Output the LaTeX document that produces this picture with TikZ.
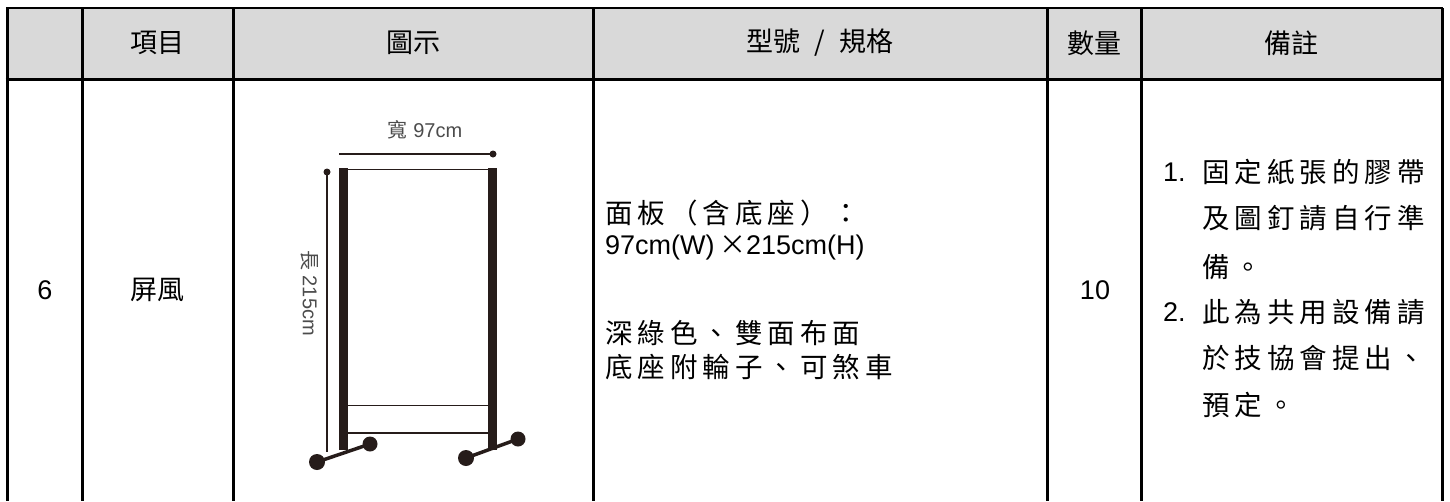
\documentclass[tikz,border=0pt]{standalone}
\usepackage{fontspec}
\setmainfont{Liberation Sans}
\newfontfamily\cjk{Noto Sans CJK TC}
\definecolor{frame}{RGB}{38,28,26}
\makeatletter
\newcommand\spreadcjk[1]{\@tfor\sc@c:=#1\do{\makebox[32.5pt][l]{\sc@c}}}
\makeatother
\newcommand\spreadline[1]{\expandafter\spreadcjk\expandafter{#1}}

\begin{document}
\begin{tikzpicture}[x=1pt,y=-1pt,
   grid/.style={line width=3pt},
   head/.style={font=\cjk\fontsize{27}{30}\selectfont,inner sep=0pt},
   body/.style={font=\cjk\fontsize{27.5}{30}\selectfont,anchor=west,inner sep=0pt},
   latin/.style={font=\fontsize{27}{32}\selectfont,inner sep=0pt},
   dim/.style={font=\fontsize{20}{22}\selectfont,text=black!70,inner sep=0pt},
   foot/.style={frame,line width=3.5pt}]
   \useasboundingbox (0,0) rectangle (1450,501);
   \fill[gray!30] (7,8) rectangle (1442,79);
   \draw[line width=2pt] (6,8) -- (1443,8);
   \draw[grid] (5.5,79) -- (1443.5,79);
   \foreach \x in {7,82,233,593,1047,1141,1442}
    \draw[grid] (\x,8) -- (\x,501);
   \node[head] (hitem) at (157,43) {項目};
   \node[head] (hpic) at (413,43) {圖示};
   \node[head] (hspec) at (820,43) {型號\hspace{14pt}/\hspace{14pt}規格};
   \node[head] (hqty) at (1094,43) {數量};
   \node[head] (hnote) at (1291,43) {備註};
   \node[latin] (num) at (45,290) {6};
   \node[head] (item) at (157,290) {屏風};
   \foreach \x in {338.5,487.5}
    \fill[frame] (\x,168) rectangle ++(9.5,282);
   \draw[frame,line width=1pt] (347,169) -- (488,169);
   \draw[frame,line width=1pt] (347,405) -- (488,405);
   \draw[frame,line width=1.3pt] (347,433) -- (488,433);
   \foreach \ax/\ay/\bx/\by in {317/462/370/444,466/458/518/439} {
    \draw[foot] (\ax,\ay) -- (\bx,\by);
    \fill[frame] (\ax,\ay) circle(8) (\bx,\by) circle(7.5);
   }
   \draw[frame,line width=1.3pt] (339,154) -- (493,154);
   \fill[frame] (493,154) circle(3.5);
   \draw[frame,line width=1.3pt] (327,172) -- (327,452);
   \fill[frame] (327,172) circle(3.5);
   \node[dim] (wlabel) at (425,130) {{\cjk 寬} 97cm};
   \node[dim,rotate=-90] (hlabel) at (310,293) {{\cjk 長} 215cm};
   \node[body] (panel) at (605,213) {\spreadcjk{面板（含底座）：}};
   \node[latin,anchor=west] (size) at (605,248) {97cm(W)\,{\cjk ×}215cm(H)};
   \node[body] (colour) at (605,333) {\spreadcjk{深綠色、雙面布面}};
   \node[body] (base) at (605,367) {\spreadcjk{底座附輪子、可煞車}};
   \node[latin] (qty) at (1095,290) {10};
   \node[latin,anchor=west] (first) at (1163,172) {1.};
   \node[latin,anchor=west] (second) at (1163,312) {2.};
   \foreach \y/\t in {172/固定紙張的膠帶,218/及圖釘請自行準,267/備。,
     312/此為共用設備請,358/於技協會提出、,405/預定。}
    \node[body] (note\y) at (1202,\y) {\spreadline{\t}};
\end{tikzpicture}
\end{document}
